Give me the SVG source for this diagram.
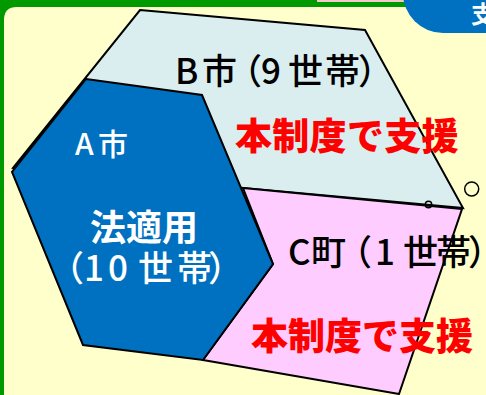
<svg xmlns="http://www.w3.org/2000/svg" width="486" height="395" viewBox="0 0 486 395">
  <style>
    .shape { stroke: #000; stroke-width: 2; stroke-linejoin: miter; }
    .jp { font-family: "Noto Sans CJK JP", "Noto Sans", sans-serif; }
    .blk { fill: #000; font-size: 35px; font-weight: 500; }
    .wht { fill: #fff; font-weight: 500; }
    .wht.bold { font-weight: 700; }
    .red { fill: #ff0000; font-size: 37px; font-weight: 900; }
    .ring { fill: none; stroke: #000; stroke-width: 1.5; }
  </style>
  <g id="background">
    <rect x="0" y="0" width="486" height="395" fill="#009900"/>
    <rect x="317" y="0" width="88" height="2" fill="#f2c8c8"/>
    <path d="M4 395 V20 Q4 7 17 7 H486 V395 Z" fill="#ffffcc"/>
    <rect x="403" y="-60" width="140" height="93" rx="40" ry="40" fill="#0070c0"/>
    <text class="jp" x="471" y="23" font-size="24" font-weight="bold" fill="#fff">支</text>
  </g>
  <g id="node-B">
    <polygon class="shape" fill="#daeef0" points="140,10 365,30 463,208 243,188 13,168"/>
    <text class="jp blk" y="84" x="175 202 227 261 288 325 358">B市（9世帯）</text>
    <text class="jp red" y="150" x="235 272.3 309.6 346.9 384.2 421.5">本制度で支援</text>
  </g>
  <g id="node-C">
    <polygon class="shape" fill="#ffccff" points="243,188 462,209 399,394 203,360 273,264"/>
    <text class="jp blk" y="265" x="288 311 337 375 403 436 468">C町（1世帯）</text>
    <text class="jp red" y="350" x="251 288 325 362 399 436">本制度で支援</text>
  </g>
  <g id="node-A">
    <polygon class="shape" fill="#0070c0" points="86,79 202,95 273,264 203,360 83,345 12,172"/>
    <text class="jp wht" font-size="30" y="155" x="75 98">A市</text>
    <text class="jp wht bold" font-size="36" y="241" x="90 126 162">法適用</text>
    <text class="jp wht" font-size="35" y="281" x="49 84 108 138 177 208">（10世帯）</text>
  </g>
  <g id="connectors">
    <circle class="ring" cx="428.5" cy="204.5" r="3.2"/>
    <circle class="ring" cx="471.7" cy="189" r="7"/>
  </g>
</svg>
